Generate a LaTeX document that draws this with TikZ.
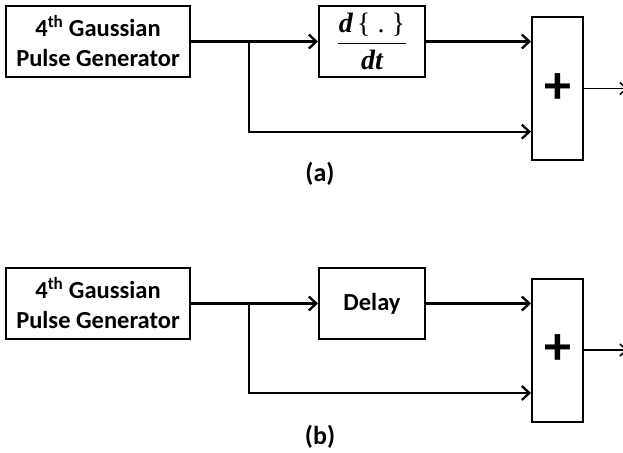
\documentclass[tikz,border=0pt]{standalone}
\usepackage{fontspec}
\usepackage{amsmath}
\setmainfont{Carlito}
\newfontfamily\derivfont{Liberation Serif}
\usetikzlibrary{arrows.meta}

\tikzset{
  blk/.style={draw, line width=2pt, inner sep=0pt, align=center,
    font=\fontsize{24.5}{30}\selectfont\bfseries},
  genbox/.style={blk, minimum width=184pt, minimum height=71pt},
  midbox/.style={blk, minimum width=106pt, minimum height=71pt},
  sumbox/.style={blk, minimum width=51pt, minimum height=143pt,
    font=\fontsize{54}{56}\selectfont\bfseries},
  conn/.style={line width=2.3pt, -{Straight Barb[length=7.5pt, width=14pt]}},
  outconn/.style={line width=1.6pt, -{Straight Barb[length=7pt, width=12pt]}},
  caption/.style={font=\fontsize{26}{30}\selectfont\bfseries}
}
% bold italic letters and plain braces for the derivative operator
\newcommand{\bi}[1]{{\derivfont\bfseries\itshape #1}}
\newcommand{\rg}[1]{{\derivfont\mdseries\upshape #1}}

\begin{document}
\begin{tikzpicture}[x=1pt, y=-1pt]
  \path[use as bounding box, clip] (0,0) rectangle (623,452);
  \fill[white] (0,0) rectangle (623,452);

  % ---- (a) differentiator path ----
  \node[genbox] (ga) at (98,41.5) {4\textsuperscript{th} Gaussian\\Pulse Generator};
  \node[midbox, font=\fontsize{28}{30}\selectfont] (da) at (372,41.5)
    {$\genfrac{}{}{1.8pt}{0}
       {\hbox{\hspace{0.05em}\bi{d}\hspace{0.15em}\rg{\{\hspace{0.25em}.\hspace{0.25em}\}}\hspace{0.05em}}}
       {\hbox{\bi{dt}}}$};
  \node[sumbox] (sa) at (557.5,88.5) {+};
  \coordinate (ja) at (249,41.5);
  \coordinate (oa) at (628,88.5);
  \node[caption] (capa) at (320,174) {(a)};

  \draw[conn] (ga.east) -- (da.west);
  \draw[conn] (da.east) -- (da.east -| sa.west);
  \draw[conn] (ja) |- (sa.west |- 0,131.7);
  \draw[outconn] (sa.east) -- (oa);

  % ---- (b) delay path ----
  \node[genbox] (gb) at (98,303.5) {4\textsuperscript{th} Gaussian\\Pulse Generator};
  \node[midbox] (db) at (372,303.5) {Delay};
  \node[sumbox] (sb) at (557.5,350) {+};
  \coordinate (jb) at (249,303.5);
  \coordinate (ob) at (628,350);
  \node[caption] (capb) at (320,437) {(b)};

  \draw[conn] (gb.east) -- (db.west);
  \draw[conn] (db.east) -- (db.east -| sb.west);
  \draw[conn] (jb) |- (sb.west |- 0,393);
  \draw[outconn] (sb.east) -- (ob);
\end{tikzpicture}
\end{document}
